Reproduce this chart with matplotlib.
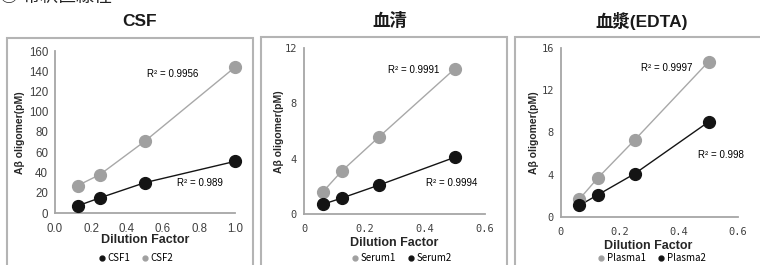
import matplotlib
matplotlib.use("Agg")
import matplotlib.pyplot as plt
from matplotlib.patches import Rectangle
from matplotlib.lines import Line2D

plt.rcParams['font.family'] = ['Liberation Sans', 'Noto Sans CJK JP', 'DejaVu Sans']

# ---- data ----
csf_x = [0.125, 0.25, 0.5, 1.0]
csf1 = [7, 15, 30, 51]
csf2 = [27, 38, 71, 144]
csf_r2 = ["R\u00b2 = 0.989", "R\u00b2 = 0.9956"]

serum_x = [0.0625, 0.125, 0.25, 0.5]
serum1 = [1.6, 3.1, 5.6, 10.5]
serum2 = [0.7, 1.15, 2.1, 4.1]
serum_r2 = ["R\u00b2 = 0.9991", "R\u00b2 = 0.9994"]

plasma_x = [0.0625, 0.125, 0.25, 0.5]
plasma1 = [1.7, 3.7, 7.3, 14.7]
plasma2 = [1.1, 2.1, 4.1, 9.0]
plasma_r2 = ["R\u00b2 = 0.9997", "R\u00b2 = 0.998"]

titles = ["CSF", "血清", "血漿(EDTA)"]
header = "① 希釈直線性"
xlabel = "Dilution Factor"
ylabel = "Aβ oligomer(pM)"

W, H = 760, 265
fig = plt.figure(figsize=(W / 100, H / 100), dpi=100)

GRAY = '#a0a0a0'
GRAYL = '#a8a8a8'
BLACK = '#141414'
SPINE = '#a6a6a6'

def px_axes(l, r, t, b):
    return fig.add_axes([l / W, 1 - b / H, (r - l) / W, (b - t) / H])

def panel_box(l, r, t):
    fig.patches.append(Rectangle((l / W, -0.1), (r - l) / W, 1 - t / H + 0.1,
                                 transform=fig.transFigure, fill=False,
                                 edgecolor='#b4b4b4', linewidth=1.5, clip_on=False))

def style(ax, xlim, ylim, xticks, yticks, xtl, ytl, tickfont, size):
    ax.set_xlim(*xlim)
    ax.set_ylim(*ylim)
    ax.set_xticks(xticks)
    ax.set_yticks(yticks)
    ax.set_xticklabels(xtl, family=tickfont, fontsize=size, color='#404040')
    ax.set_yticklabels(ytl, family=tickfont, fontsize=size, color='#404040')
    for s in ['top', 'right']:
        ax.spines[s].set_visible(False)
    for s in ['left', 'bottom']:
        ax.spines[s].set_color(SPINE)
        ax.spines[s].set_linewidth(1.3)
    ax.tick_params(axis='x', length=0, pad=7)
    ax.tick_params(axis='y', length=0, pad=5)
    ax.patch.set_alpha(0)

def draw_series(ax, x, y, col, lcol):
    ax.plot(x, y, color=lcol, linewidth=1.0, zorder=2, clip_on=False)
    ax.plot(x, y, linestyle='none', marker='o', markersize=8.5,
            markerfacecolor=col, markeredgecolor=col, zorder=3, clip_on=False)

# panel boxes
panel_box(7, 253, 38)
panel_box(261, 507, 37)
panel_box(515, 800, 37)

# header (cut off at the top, as in the reference)
fig.text(0 / W, 1 - 2 / H, header, fontsize=13, family=['Noto Sans CJK JP', 'DejaVu Sans'],
         ha='left', va='baseline', color='#222222')

# ---- CSF ----
ax1 = px_axes(55, 235, 51, 213)
draw_series(ax1, csf_x, csf2, GRAY, GRAYL)
draw_series(ax1, csf_x, csf1, BLACK, BLACK)
style(ax1, (0, 1.0), (0, 160), [0, 0.2, 0.4, 0.6, 0.8, 1.0], range(0, 161, 20),
      ["0.0", "0.2", "0.4", "0.6", "0.8", "1.0"], [str(v) for v in range(0, 161, 20)],
      'Liberation Sans', 8.3)
ax1.text(0.51, 137, csf_r2[1], fontsize=7, va='center', ha='left')
ax1.text(0.68, 30, csf_r2[0], fontsize=7, va='center', ha='left')

# ---- Serum ----
ax2 = px_axes(304, 485, 48, 214)
draw_series(ax2, serum_x, serum1, GRAY, GRAYL)
draw_series(ax2, serum_x, serum2, BLACK, BLACK)
style(ax2, (0, 0.6), (0, 12), [0, 0.2, 0.4, 0.6], [0, 4, 8, 12],
      ["0", "0.2", "0.4", "0.6"], ["0", "4", "8", "12"], 'DejaVu Sans Mono', 7.5)
ax2.text(0.278, 10.4, serum_r2[0], fontsize=7, va='center', ha='left')
ax2.text(0.404, 2.24, serum_r2[1], fontsize=7, va='center', ha='left')

# ---- Plasma ----
ax3 = px_axes(561, 738, 48, 217)
draw_series(ax3, plasma_x, plasma1, GRAY, GRAYL)
draw_series(ax3, plasma_x, plasma2, BLACK, BLACK)
style(ax3, (0, 0.6), (0, 16), [0, 0.2, 0.4, 0.6], [0, 4, 8, 12, 16],
      ["0", "0.2", "0.4", "0.6"], ["0", "4", "8", "12", "16"], 'DejaVu Sans Mono', 7.5)
ax3.text(0.271, 14.1, plasma_r2[0], fontsize=7, va='center', ha='left')
ax3.text(0.464, 5.9, plasma_r2[1], fontsize=7, va='center', ha='left')

# titles
for cx, t in zip([140, 390, 642], titles):
    fig.text(cx / W, 1 - 21 / H, t, fontsize=12.5, weight='bold', ha='center', va='center',
             family=['Liberation Sans', 'Noto Sans CJK JP'], color='#1a1a1a')

# axis labels
for cx, cy in [(145, 240), (394, 243), (648, 246)]:
    fig.text(cx / W, 1 - cy / H, xlabel, fontsize=9, weight='bold', ha='center', va='center',
             color='#262626')
for cx, cy in [(20, 133), (279, 132), (534, 133)]:
    fig.text(cx / W, 1 - cy / H, ylabel, fontsize=7.5, weight='bold', ha='center', va='center',
             rotation=90, color='#262626')

# legends
def legend(cx, items):
    handles = [Line2D([], [], linestyle='none', marker='o', markersize=3.5,
                      markerfacecolor=c, markeredgecolor=c) for c, _ in items]
    fig.legend(handles, [l for _, l in items], loc='center', bbox_to_anchor=(cx / W, 1 - 258 / H),
               ncol=len(items), frameon=False, handlelength=0.6, handletextpad=0.3,
               columnspacing=1.2, borderpad=0, prop={'family': ['Noto Sans CJK JP'], 'size': 7})

legend(136, [(BLACK, "CSF1"), (GRAY, "CSF2")])
legend(402, [(GRAY, "Serum1"), (BLACK, "Serum2")])
legend(652, [(GRAY, "Plasma1"), (BLACK, "Plasma2")])

fig.savefig("out.png", dpi=100)
